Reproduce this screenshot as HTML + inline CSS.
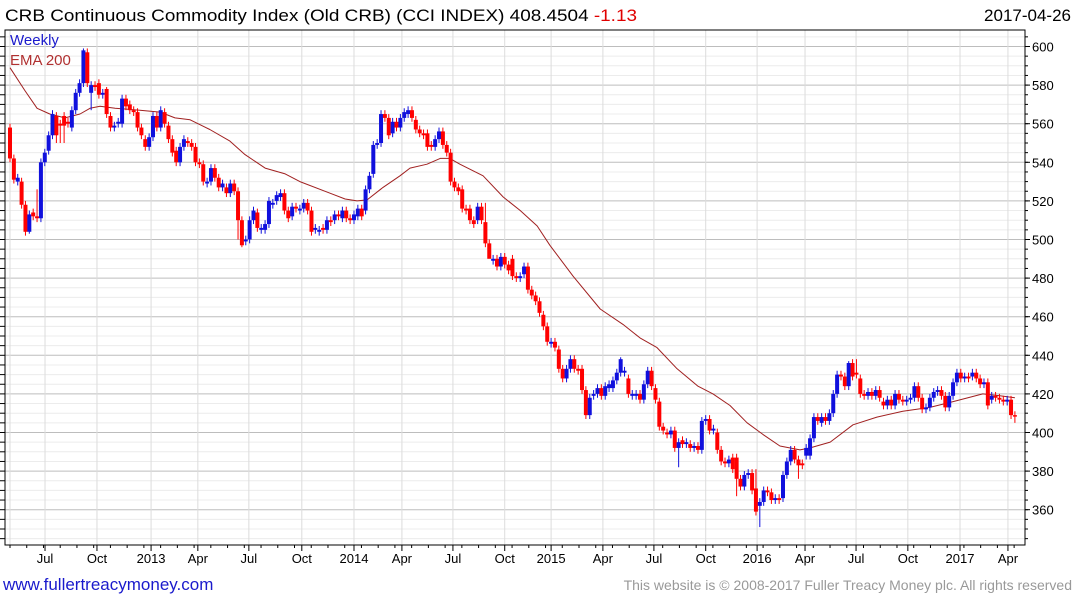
<!DOCTYPE html>
<html><head><meta charset="utf-8">
<style>
body{margin:0;background:#fff;width:1075px;height:600px;overflow:hidden;font-family:"Liberation Sans",sans-serif;}
svg{position:absolute;left:0;top:0;}
</style></head>
<body>
<svg id="chart" width="1075" height="600" xmlns="http://www.w3.org/2000/svg">
<text x="5" y="21" font-size="17" fill="#000" textLength="632" lengthAdjust="spacingAndGlyphs">CRB Continuous Commodity Index (Old CRB) (CCI INDEX) 408.4504 <tspan fill="#e00000">-1.13</tspan></text>
<text x="1071" y="21" font-size="17" fill="#000" text-anchor="end">2017-04-26</text>
<g id="grid"></g>
<g id="ema"></g>
<g id="candles"></g>
<g id="axes"></g>
<text x="10" y="45" font-size="15" fill="#1a1acc">Weekly</text>
<text x="10" y="65" font-size="15" fill="#b03030">EMA 200</text>
<text x="3" y="590" font-size="17" fill="#1a1acc">www.fullertreacymoney.com</text>
<text x="1072" y="590" font-size="14" fill="#999" text-anchor="end">This website is © 2008-2017 Fuller Treacy Money plc. All rights reserved</text>
</svg>
<script>
const opens=[558,542,530,530,518,504,514,512,511,540,
546,554,564,560,564,561,558,567,576,581,
597,576,580,581,575,578,564,558,560,560,
573,570,567,566,558,552,548,553,564,558,
566,559,552,546,540,548,551,550,548,540,
539,529,530,537,532,527,527,524,529,525,
510,499,500,510,514,505,505,508,518,520,
522,524,515,512,517,515,516,519,515,505,
504,506,505,510,510,513,511,515,511,510,
512,516,515,526,534,549,550,565,563,555,
561,558,563,565,567,562,557,555,555,549,
548,552,556,549,545,530,527,526,516,516,
510,510,517,509,498,489,490,486,491,487,
490,481,480,482,486,474,471,468,461,455,
446,447,443,433,428,433,438,433,433,422,
409,419,420,423,419,423,423,427,431,431,
428,419,419,420,417,425,432,423,416,403,
400,399,401,392,396,394,394,392,393,391,
406,407,401,400,391,385,384,387,387,376,
372,378,379,371,362,364,370,369,365,366,
366,378,385,391,386,384,388,388,397,408,
405,408,406,410,420,430,429,424,436,431,
428,420,419,421,419,422,416,414,417,414,
420,417,416,417,418,424,418,412,413,418,
421,422,419,413,419,426,431,428,429,429,
431,428,425,426,417,419,418,417,416,417,409];
const closes=[542,531,532,518,504,513,512,511,540,545,
554,565,554,559,559,560,567,576,581,598,
581,580,579,575,576,565,558,559,561,573,
569,567,566,558,554,548,553,564,558,567,
560,552,545,540,548,552,550,548,540,539,
530,530,537,532,527,529,524,529,525,510,
497,500,510,515,506,506,508,520,519,523,
524,515,511,517,516,516,519,515,504,506,
505,505,510,509,513,512,515,511,510,513,
516,512,526,533,549,550,565,563,554,561,
558,563,566,567,563,557,555,554,548,548,
552,556,549,545,530,527,525,516,515,510,
508,517,510,498,490,490,486,491,487,484,
481,480,481,486,474,471,468,462,455,447,
447,444,433,428,433,438,433,432,422,409,
418,420,423,419,424,425,427,431,438,432,
420,420,420,417,425,432,424,417,403,401,
399,401,392,395,394,395,392,393,391,406,
407,401,402,391,385,384,386,381,376,372,
378,379,370,359,364,370,369,365,366,365,
378,385,391,386,383,383,392,397,408,406,
408,406,410,420,430,429,424,436,429,430,
420,419,421,419,422,418,414,417,414,420,
417,416,417,418,424,418,412,413,418,421,
422,419,413,419,426,431,428,429,428,431,
428,425,426,414,419,418,417,416,417,409,408.45];
// notable wick extremes [barIndex, value]
const highOverrides=[[7,526],[19,599],[25,579],[29,575],[123,519],[158,439],[193,381],[217,437],[219,438]];
const lowOverrides=[[4,502],[5,503],[12,550],[13,550],[14,550],[21,567],[59,500],[60,496],[194,351],[188,367],[199,363],[204,376],[260,405],[173,382],[124,496]];
const emaIdx=[0,3.9,7,10.3,14.2,18.1,20.7,23.3,27.2,33.6,38.8,42.7,46.6,51.7,56.9,60.8,66,71.2,75,82.8,86.7,89.8,92.4,96.5,100.9,103.5,107.9,111.3,113.8,116.4,122.4,127.6,132,136.4,139.7,145.7,152.7,158.6,163,167.4,172.6,178,181.9,186.3,190.7,194.8,199.2,204.4,207,212.2,218.1,224.3,231,238,244,251.7,256.1,260];
const emaVal=[589,577,568,565,563,565,568,569,568,567,566,563,562,557,551,544,537,534,530,524,521,520,520.5,527,533,537,539,542,542,539,533,522,515,507,497,481,464,456,449,444,433,424,420,414,405,399,393,391,392,395,404,408,411,413,416,420,419,418];
const yTicks=[360,380,400,420,440,460,480,500,520,540,560,580,600];
const xTickIdx=[9.06,22.5,36.5,48.6,61.8,75.5,89,101.4,114.6,128,140,153.4,166.6,180,193.3,205.7,218.9,232.3,245.8,258.2];
const xTickLabels=["Jul","Oct","2013","Apr","Jul","Oct","2014","Apr","Jul","Oct","2015","Apr","Jul","Oct","2016","Apr","Jul","Oct","2017","Apr"];

const NS="http://www.w3.org/2000/svg";
const L=5,R=1025,T=30,B=545;
function X(i){return 10+i*3.865;}
function Y(v){return 46.5+(600-v)*1.93;}
function mk(tag,attrs,parent){const e=document.createElementNS(NS,tag);for(const k in attrs)e.setAttribute(k,attrs[k]);parent.appendChild(e);return e;}
const grid=document.getElementById('grid'),axes=document.getElementById('axes'),cg=document.getElementById('candles'),eg=document.getElementById('ema');
for(let v=345;v<=610;v+=5){const y=Y(v);if(y<T||y>B)continue;
 const major=(v%20===0);
 const ln=mk('line',{x1:L,x2:R,y1:y,y2:y,stroke:major?'#bdbdbd':'#ececec','stroke-width':1},grid);
 
 
}
mk('line',{x1:10,x2:10,y1:T,y2:B,stroke:'#dcdcdc'},grid);
xTickIdx.forEach((t,k)=>{const x=X(t);
 const ln=mk('line',{x1:x,x2:x,y1:T,y2:B,stroke:'#dcdcdc','stroke-width':1},grid);
 
 
 const tk=mk('line',{x1:x,x2:x,y1:B,y2:B+6,stroke:'#000'},axes);
 
 
 const tx=mk('text',{x:x,y:563,'font-size':13,'text-anchor':'middle',fill:'#000'},axes);
 tx.textContent=xTickLabels[k];
 
 
});
for(let i=0;i<261;i+=4.33){const x=X(i);const t=mk('line',{x1:x,x2:x,y1:B,y2:B+3,stroke:'#000'},axes);
 
 }
yTicks.forEach(v=>{const y=Y(v);
 const tk=mk('line',{x1:R,x2:R+5,y1:y,y2:y,stroke:'#000'},axes);
 
 
 const tx=mk('text',{x:1032,y:y+5,'font-size':13,fill:'#000'},axes);
 tx.textContent=v;
 
 
});
for(let v=345;v<=610;v+=5){const y=Y(v);if(y<T||y>B)continue;
 const t=mk('line',{x1:R,x2:R+3,y1:y,y2:y,stroke:'#000'},axes);
 
 }
const frame=mk('rect',{x:L,y:T,width:R-L,height:B-T,fill:'none',stroke:'#000','stroke-width':1},axes);


for(let v=345;v<=610;v+=5){const y=Y(v);if(y<T||y>B)continue;
 const t=mk('line',{x1:0,x2:L,y1:y,y2:y,stroke:'#000'},axes);
 
 }
let d='';emaIdx.forEach((t,k)=>{d+=(k?'L':'M')+X(t).toFixed(1)+' '+Y(emaVal[k]).toFixed(1);});
const ep=mk('path',{d:d,fill:'none',stroke:'#a02020','stroke-width':1,'stroke-linejoin':'round'},eg);


const hiO={},loO={};highOverrides.forEach(p=>hiO[p[0]]=p[1]);lowOverrides.forEach(p=>loO[p[0]]=p[1]);
for(let i=0;i<closes.length;i++){
 const o=opens[i],c=closes[i];const up=c>=o;const col=up?'#1010dd':'#ff0000';
 const hi=hiO[i]!==undefined?hiO[i]:Math.max(o,c)+2,lo=loO[i]!==undefined?loO[i]:Math.min(o,c)-2;
 const x=X(i);
 const g=mk('g',{},cg);
 
 
 mk('line',{x1:x,x2:x,y1:Y(hi),y2:Y(lo),stroke:col,'stroke-width':1},g);
 const yt=Y(Math.max(o,c)),yb=Y(Math.min(o,c));
 mk('rect',{x:x-2,y:yt,width:4,height:Math.max(1.5,yb-yt),fill:col},g);
}
</script>
</body></html>
